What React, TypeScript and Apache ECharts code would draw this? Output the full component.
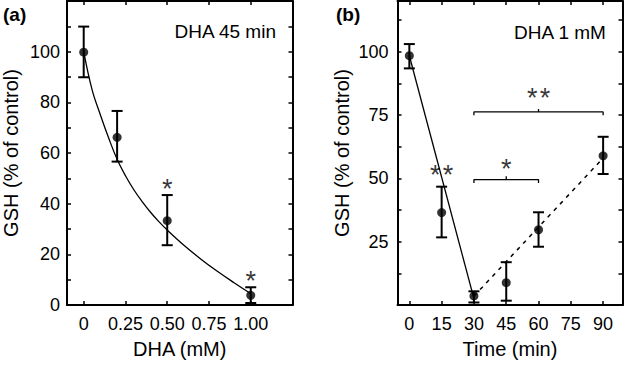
import React, { useEffect, useRef } from "react";
import * as echarts from "echarts";

// Panel (a): GSH vs DHA dose (45 min)
const doseX = [0, 0.2, 0.5, 1.0];
const gshA = [99.8, 66.2, 33.3, 3.8];
const lowA = [89.9, 56.6, 23.6, 0.8];
const highA = [109.9, 76.6, 43.4, 7];
const curveX = [0, 0.05, 0.1, 0.15, 0.2, 0.25, 0.3, 0.35, 0.4, 0.45, 0.5, 0.6, 0.7, 0.8, 0.9, 1.0];
const curveY = [100, 85, 75, 65.8, 57.5, 51, 45.5, 40.8, 36.6, 32.9, 29.6, 23.6, 18.2, 13.3, 8.8, 4.5];
const starsAX = [0.5, 1.0];
const starsAY = [48.3, 11.8];
const starsAText = ["*", "*"];
const xTicksA = [0, 0.25, 0.5, 0.75, 1.0];
const yTicksA = [0, 10, 20, 30, 40, 50, 60, 70, 80, 90, 100, 110];
const yLabelsA = [0, 20, 40, 60, 80, 100];

// Panel (b): GSH vs time (1 mM DHA)
const timeX = [0, 15, 30, 45, 60, 90];
const gshB = [98.4, 36.5, 3.6, 8.8, 29.7, 58.9];
const lowB = [93.4, 26.7, 1, 1.7, 23, 51.7];
const highB = [103, 46.7, 5.4, 16.9, 36.6, 66.4];
const solidX = [0, 30];
const solidY = [98.4, 2.5];
const dashX = [30, 90];
const dashY = [3.5, 58];
const bracket1X = [30, 30, 60, 60, 60, 90, 90];
const bracket1Y = [74.9, 76.2, 76.2, 77.4, 76.2, 76.2, 74.9];
const bracket2X = [30, 30, 45, 45, 45, 60, 60];
const bracket2Y = [48.2, 49.5, 49.5, 50.8, 49.5, 49.5, 48.2];
const starsBX = [15, 45, 60];
const starsBY = [53.6, 55.9, 84.2];
const starsBText = ["*\u200A*", "*", "*\u200A*"];
const xTicksB = [0, 15, 30, 45, 60, 75, 90];
const yTicksB = [0, 12.5, 25, 37.5, 50, 62.5, 75, 87.5, 100, 112.5];
const yLabelsB = [25, 50, 75, 100];

const FONT = "Liberation Sans, Arial, sans-serif";
const zip = (a: number[], b: number[]) => a.map((v, i) => [v, b[i]]);

function errSeries(xi: number, x: number[], lo: number[], hi: number[]) {
  return {
    type: "custom",
    xAxisIndex: xi,
    yAxisIndex: xi,
    z: 3,
    encode: { x: 0, y: [1, 2] },
    data: x.map((v, i) => [v, lo[i], hi[i]]),
    renderItem: (params: any, api: any) => {
      const xv = api.value(0);
      const a = api.coord([xv, api.value(1)]);
      const b = api.coord([xv, api.value(2)]);
      const w = 5.5;
      const style = { stroke: "#000", lineWidth: 2 };
      return {
        type: "group",
        children: [
          { type: "line", shape: { x1: a[0], y1: a[1], x2: b[0], y2: b[1] }, style },
          { type: "line", shape: { x1: a[0] - w, y1: a[1], x2: a[0] + w, y2: a[1] }, style },
          { type: "line", shape: { x1: b[0] - w, y1: b[1], x2: b[0] + w, y2: b[1] }, style },
        ],
      };
    },
  };
}

function starSeries(xi: number, x: number[], y: number[], t: string[]) {
  return {
    type: "scatter",
    xAxisIndex: xi,
    yAxisIndex: xi,
    symbolSize: 0,
    z: 5,
    data: x.map((v, i) => ({ value: [v, y[i]], name: t[i] })),
    label: {
      show: true,
      position: "inside",
      formatter: (p: any) => p.name,
      fontFamily: FONT,
      fontSize: 27,
      color: "#000",
      offset: [0, 6],
    },
  };
}

const lineStyleAxis = { color: "#000", width: 2 };

function xAxes(grid: number, min: number, max: number, ticks: number[], fmt: (v: number) => string, name: string) {
  const base = {
    type: "value",
    gridIndex: grid,
    min,
    max,
    splitLine: { show: false },
    axisLine: { show: true, onZero: false, lineStyle: lineStyleAxis },
    axisTick: { show: true, inside: true, length: 4, customValues: ticks, lineStyle: { color: "#000", width: 1.5 } },
  };
  return [
    {
      ...base,
      position: "bottom",
      axisLabel: { show: true, customValues: ticks, formatter: fmt, fontFamily: FONT, fontSize: 18, color: "#000", margin: 10 },
      name,
      nameLocation: "middle",
      nameGap: 34,
      nameTextStyle: { fontFamily: FONT, fontSize: 20, color: "#000" },
    },
    { ...base, position: "top", axisLabel: { show: false } },
  ];
}

function yAxes(grid: number, ticks: number[], labels: number[], margin: number) {
  const base = {
    type: "value",
    gridIndex: grid,
    min: 0,
    max: 120,
    splitLine: { show: false },
    axisLine: { show: true, onZero: false, lineStyle: lineStyleAxis },
    axisTick: { show: true, inside: true, length: 4, customValues: ticks, lineStyle: { color: "#000", width: 1.5 } },
  };
  return [
    {
      ...base,
      position: "left",
      axisLabel: { show: true, customValues: labels, fontFamily: FONT, fontSize: 18, color: "#000", margin },
      name: "GSH (% of control)",
      nameLocation: "middle",
      nameGap: 46,
      nameTextStyle: { fontFamily: FONT, fontSize: 20, color: "#000" },
    },
    { ...base, position: "right", axisLabel: { show: false } },
  ];
}

export default function App() {
  const ref = useRef<HTMLDivElement>(null);
  useEffect(() => {
    if (!ref.current) return;
    const chart = echarts.init(ref.current, undefined, { renderer: "svg" });
    const xa = xAxes(0, -0.1, 1.25, xTicksA, (v: number) => (v === 0 ? "0" : v.toFixed(2)), "DHA (mM)");
    const xb = xAxes(1, -5.5, 99, xTicksB, (v: number) => String(v), "Time (min)");
    const ya = yAxes(0, yTicksA, yLabelsA, 7);
    const yb = yAxes(1, yTicksB, yLabelsB, 9);
    const option: any = {
      animation: false,
      backgroundColor: "#fff",
      grid: [
        { left: 67, top: 1, width: 225.5, height: 304 },
        { left: 397.5, top: 1, width: 225, height: 304 },
      ],
      xAxis: [xa[0], xb[0], xa[1], xb[1]],
      yAxis: [ya[0], yb[0], ya[1], yb[1]],
      graphic: [
        { type: "text", left: 3, top: 5, style: { text: "(a)", fontFamily: FONT, fontSize: 19, fontWeight: "bold", fill: "#000" } },
        { type: "text", left: 336, top: 5, style: { text: "(b)", fontFamily: FONT, fontSize: 19, fontWeight: "bold", fill: "#000" } },
        { type: "text", right: 628 - 277, top: 22, style: { text: "DHA 45 min", fontFamily: FONT, fontSize: 19, fill: "#000" } },
        { type: "text", right: 628 - 607, top: 23, style: { text: "DHA 1 mM", fontFamily: FONT, fontSize: 19, fill: "#000" } },
      ],
      series: [
        {
          type: "line",
          xAxisIndex: 0,
          yAxisIndex: 0,
          data: zip(curveX, curveY),
          smooth: 0.4,
          showSymbol: false,
          lineStyle: { color: "#000", width: 1.3 },
          z: 2,
        },
        errSeries(0, doseX, lowA, highA),
        {
          type: "scatter",
          xAxisIndex: 0,
          yAxisIndex: 0,
          data: zip(doseX, gshA),
          symbol: "circle",
          symbolSize: 9,
          itemStyle: { color: "#000" },
          z: 4,
        },
        starSeries(0, starsAX, starsAY, starsAText),
        {
          type: "line",
          xAxisIndex: 1,
          yAxisIndex: 1,
          data: zip(solidX, solidY),
          showSymbol: false,
          lineStyle: { color: "#000", width: 1.3 },
          z: 2,
        },
        {
          type: "line",
          xAxisIndex: 1,
          yAxisIndex: 1,
          data: zip(dashX, dashY),
          showSymbol: false,
          lineStyle: { color: "#000", width: 1.5, type: [4, 5] },
          z: 2,
        },
        {
          type: "line",
          xAxisIndex: 1,
          yAxisIndex: 1,
          data: zip(bracket1X, bracket1Y),
          showSymbol: false,
          lineStyle: { color: "#000", width: 1.3 },
          z: 2,
        },
        {
          type: "line",
          xAxisIndex: 1,
          yAxisIndex: 1,
          data: zip(bracket2X, bracket2Y),
          showSymbol: false,
          lineStyle: { color: "#000", width: 1.3 },
          z: 2,
        },
        errSeries(1, timeX, lowB, highB),
        {
          type: "scatter",
          xAxisIndex: 1,
          yAxisIndex: 1,
          data: zip(timeX, gshB),
          symbol: "circle",
          symbolSize: 9,
          itemStyle: { color: "#000" },
          z: 4,
        },
        starSeries(1, starsBX, starsBY, starsBText),
      ],
    };
    chart.setOption(option);
    return () => chart.dispose();
  }, []);
  return (
    <div
      ref={ref}
      style={{ position: "fixed", left: 0, top: 0, width: 628, height: 367, background: "#fff" }}
    />
  );
}
